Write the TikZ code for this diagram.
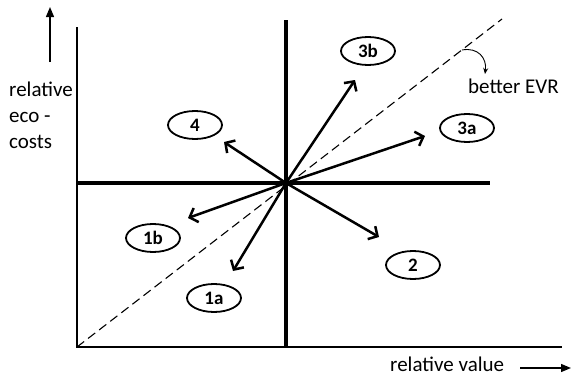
\documentclass[tikz,border=0pt]{standalone}
\usepackage{fontspec}
\setmainfont{Carlito}
\usetikzlibrary{arrows.meta,shapes.geometric}

\begin{document}
\begin{tikzpicture}[x=1pt,y=-1pt,
    every node/.style={font=\fontsize{21}{26}\selectfont, inner sep=0pt},
    tag/.style={draw, ellipse, line width=1.8pt, minimum width=54pt,
                minimum height=28pt, font=\fontsize{19}{22}\selectfont\bfseries},
    axis/.style={line width=1.2pt},
    cross/.style={line width=3.8pt},
    vec/.style={line width=2.5pt, -{Straight Barb[length=7pt,width=15pt]}},
    lblarr/.style={line width=1.3pt, -{Triangle[length=10pt,width=8pt]}},
    ref/.style={line width=1.1pt, dash pattern=on 9pt off 5pt}]
  \useasboundingbox (0,0) rectangle (571,375);
  \coordinate (o) at (286,183);
  \coordinate (orig) at (77,347);
  \coordinate (ytop) at (77,27);
  \coordinate (xend) at (562,347);
  \coordinate (ctop) at (286,20);
  \coordinate (cbot) at (286,347);
  \coordinate (cleft) at (77,183);
  \coordinate (cright) at (490,183);
  \coordinate (dend) at (502,19);
  \draw[axis] (ytop) -- (orig) -- (xend);
  \draw[cross] (ctop) -- (cbot);
  \draw[cross] (cleft) -- (cright);
  \draw[ref] (orig) -- (dend);

  \coordinate (t3b) at (355,80);
  \coordinate (t3a) at (425,136);
  \coordinate (t4) at (224,142);
  \coordinate (t1b) at (188,218);
  \coordinate (t1a) at (233,271);
  \coordinate (t2) at (379,237);
  \foreach \t in {t3b,t3a,t4,t1b,t1a,t2}
    \draw[vec] (o) -- (\t);

  \node[tag] (e3b) at (368,51) {3b};
  \node[tag] (e3a) at (467,128) {3a};
  \node[tag] (e4) at (195,125) {4};
  \node[tag] (e1b) at (153,238) {1b};
  \node[tag] (e1a) at (214,298) {1a};
  \node[tag] (e2) at (413,265) {2};

  \node[anchor=base west] (evrlbl) at (468,93) {better EVR};
  \coordinate (evr) at (462,50);
  \coordinate (evrtip) at (485,74);
  \draw[line width=0.9pt, -{Stealth[length=6pt,width=5pt]}]
    (evr) .. controls (478,47) and (487,58) .. (evrtip);

  \node[anchor=north west, align=left] (ylbl) at (9,82) {relative\\eco -\\costs};
  \coordinate (ya) at (50,62);
  \coordinate (yb) at (50,7);
  \draw[lblarr] (ya) -- (yb);

  \node[anchor=base west] (xlbl) at (390,371) {relative value};
  \coordinate (xa) at (520,368);
  \coordinate (xb) at (571,368);
  \draw[lblarr] (xa) -- (xb);
\end{tikzpicture}
\end{document}
